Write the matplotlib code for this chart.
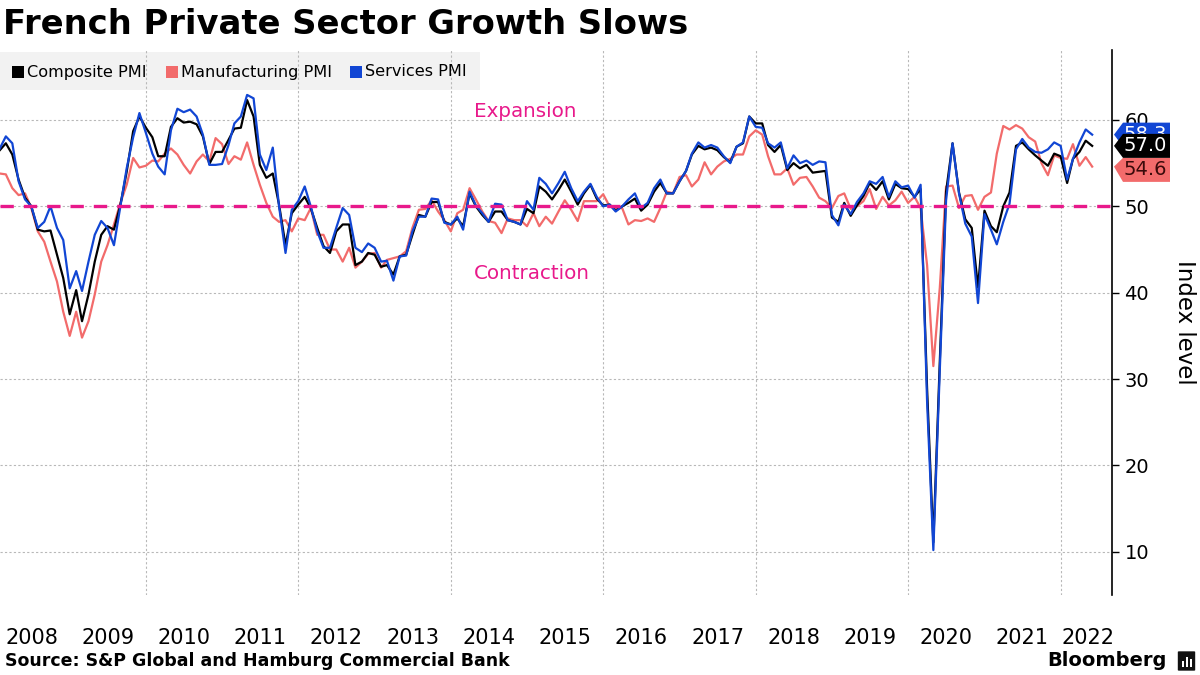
import numpy as np
import pandas as pd
import matplotlib
matplotlib.use('Agg')
import matplotlib.pyplot as plt
import matplotlib.dates as mdates
from matplotlib.patches import Rectangle, Polygon, FancyBboxPatch

# monthly PMI readings, Jan 2008 - May 2022
composite = [
    56.5, 57.3, 56.0, 53.1, 51.0, 50.0, 47.3, 47.1, 47.2, 44.4, 41.7, 37.5,
    40.3, 36.7, 39.8, 43.6, 46.7, 47.7, 47.3, 50.2, 54.0, 58.7, 60.4, 59.1,
    58.0, 55.8, 55.8, 59.2, 60.2, 59.7, 59.8, 59.5, 58.1, 54.9, 56.3, 56.3,
    57.7, 59.0, 59.1, 62.3, 60.4, 54.8, 53.3, 53.8, 50.2, 45.5, 49.2, 50.2,
    51.1, 49.8, 47.5, 45.4, 44.6, 47.1, 47.9, 47.9, 43.2, 43.6, 44.6, 44.4,
    43.0, 43.2, 42.1, 44.2, 44.4, 46.7, 49.0, 48.8, 50.5, 50.5, 48.2, 47.9,
    48.6, 47.7, 51.5, 50.0, 49.0, 48.2, 49.4, 49.4, 48.4, 48.2, 47.9, 49.7,
    49.2, 52.3, 51.7, 50.8, 51.9, 53.1, 51.7, 50.2, 51.5, 52.5, 50.9, 50.1,
    50.2, 49.5, 50.0, 50.4, 50.9, 49.5, 50.2, 51.7, 52.7, 51.5, 51.5, 52.9,
    54.1, 56.0, 57.0, 56.6, 56.8, 56.5, 55.7, 55.1, 56.9, 57.3, 60.4, 59.6,
    59.6, 57.1, 56.3, 57.1, 54.2, 55.0, 54.4, 54.8, 53.9, 54.0, 54.1, 48.7,
    48.2, 50.4, 48.9, 50.1, 51.2, 52.7, 51.9, 52.9, 50.8, 52.6, 52.1, 52.0,
    51.1, 52.0, 28.9, 11.1, 32.1, 51.7, 57.3, 51.6, 48.5, 47.5, 40.6, 49.5,
    47.7, 47.0, 50.0, 51.6, 57.0, 57.4, 56.6, 55.9, 55.3, 54.7, 56.1, 55.8,
    52.7, 55.5, 56.3, 57.6, 57.0,
]
manufacturing = [
    53.8, 53.7, 52.1, 51.3, 51.5, 49.8, 47.1, 45.9, 43.6, 41.3, 37.8, 35.0,
    37.8, 34.8, 36.7, 39.8, 43.6, 45.5, 47.9, 50.4, 52.5, 55.6, 54.5, 54.7,
    55.3, 55.2, 56.1, 56.7, 56.0, 54.8, 53.8, 55.2, 56.0, 55.2, 57.9, 57.2,
    54.9, 55.8, 55.4, 57.4, 54.8, 52.5, 50.4, 48.8, 48.2, 48.4, 47.1, 48.6,
    48.4, 49.8, 46.7, 46.7, 45.0, 45.0, 43.6, 45.2, 42.9, 43.6, 44.5, 44.6,
    42.9, 43.8, 44.0, 44.2, 44.8, 47.5, 49.6, 49.7, 50.7, 49.4, 48.4, 47.1,
    49.2, 49.6, 52.1, 50.8, 49.4, 48.3, 48.1, 46.9, 48.6, 48.4, 48.4, 47.7,
    49.2, 47.7, 48.8, 48.0, 49.4, 50.7, 49.6, 48.3, 50.6, 50.6, 50.6, 51.4,
    50.0, 49.8, 49.8, 47.9, 48.4, 48.3, 48.6, 48.2, 49.8, 51.7, 51.5, 53.4,
    53.6, 52.3, 53.1, 55.1, 53.7, 54.6, 55.2, 55.5, 56.0, 56.0, 58.1, 58.8,
    58.3, 55.8, 53.7, 53.7, 54.4, 52.5, 53.3, 53.4, 52.3, 51.0, 50.6, 49.8,
    51.2, 51.5, 49.7, 50.0, 50.6, 52.0, 49.7, 51.1, 50.1, 50.7, 51.7, 50.4,
    51.1, 49.8, 43.2, 31.5, 40.6, 52.3, 52.4, 49.8, 51.2, 51.3, 49.6, 51.1,
    51.6, 56.1, 59.3, 58.9, 59.4, 59.0, 58.0, 57.5, 55.0, 53.6, 55.9, 55.6,
    55.5, 57.2, 54.7, 55.7, 54.6,
]
services = [
    56.7, 58.1, 57.3, 52.9, 50.8, 50.0, 47.5, 48.2, 50.0, 47.5, 46.1, 40.5,
    42.5, 40.2, 43.6, 46.7, 48.3, 47.5, 45.5, 50.0, 54.4, 58.0, 60.8, 58.5,
    56.1, 54.6, 53.7, 58.8, 61.3, 60.9, 61.2, 60.4, 58.3, 54.8, 54.8, 54.9,
    57.1, 59.6, 60.4, 62.9, 62.5, 56.0, 54.2, 56.8, 50.0, 44.6, 49.6, 50.6,
    52.3, 50.0, 47.1, 45.2, 45.2, 47.5, 49.8, 49.0, 45.2, 44.7, 45.7, 45.2,
    43.6, 43.7, 41.4, 44.2, 44.3, 47.1, 48.8, 48.8, 50.9, 50.8, 48.1, 47.9,
    48.8, 47.3, 51.7, 50.1, 49.2, 48.2, 50.3, 50.2, 48.4, 48.2, 47.9, 50.6,
    49.6, 53.3, 52.6, 51.5, 52.7, 54.0, 52.1, 50.6, 51.7, 52.6, 51.1, 50.0,
    50.2, 49.4, 50.0, 50.8, 51.5, 49.8, 50.4, 52.1, 53.1, 51.5, 51.5, 52.9,
    54.1, 56.1, 57.4, 56.8, 57.1, 56.8, 55.8, 55.0, 56.9, 57.4, 60.4, 59.2,
    59.1, 57.3, 56.8, 57.4, 54.4, 55.9, 55.0, 55.3, 54.8, 55.2, 55.1, 49.0,
    47.8, 50.2, 49.1, 50.5, 51.5, 52.9, 52.6, 53.4, 51.1, 52.9, 52.2, 52.4,
    51.0, 52.5, 27.4, 10.2, 31.1, 50.7, 57.3, 51.5, 48.0, 46.5, 38.8, 49.1,
    47.3, 45.6, 48.2, 50.3, 56.6, 57.8, 56.8, 56.3, 56.2, 56.6, 57.4, 57.0,
    53.1, 55.5, 57.4, 58.9, 58.3,
]
years = list(range(2008, 2023))
year_labels = [str(y) for y in years]
y_ticks = [10, 20, 30, 40, 50, 60]

BLACK = '#000000'
RED = '#f26b6b'
BLUE = '#1146d4'
PINK = '#e8198b'
GRID = '#b8b8b8'

dates = pd.date_range('2008-01-01', periods=len(composite), freq='MS') + pd.offsets.MonthEnd(0)

fig = plt.figure(figsize=(12, 6.75), dpi=100)
# plot area in pixels: x 0..1112, y 50..595
ax = fig.add_axes([0, 1 - 595 / 675, 1112 / 1200, 545 / 675])
ax.set_axisbelow(True)

def axx(px):
    return px / 1112.0

def axy(py):
    return 1 - (py - 50) / 545.0

ax.plot(dates, manufacturing, color=RED, lw=1.6, zorder=3)
ax.plot(dates, composite, color=BLACK, lw=1.6, zorder=4)
ax.plot(dates, services, color=BLUE, lw=1.6, zorder=5)
ax.axhline(50, color=PINK, lw=2.4, dashes=(4, 3), zorder=6)

ax.set_xlim(pd.Timestamp('2008-02-01'), pd.Timestamp('2022-09-03'))
ax.set_ylim(5.0, 68.1)

# year labels at mid-year, gridlines at Jan of even years
label_pos = [pd.Timestamp(f'{y}-07-01') for y in years]
label_pos[-1] = pd.Timestamp('2022-05-10')
ax.set_xticks(label_pos)
ax.set_xticklabels(year_labels, fontsize=15)
ax.set_xticks([pd.Timestamp(f'{y}-01-01') for y in range(2010, 2023, 2)], minor=True)
ax.tick_params(axis='x', which='both', length=0, pad=24)
ax.grid(axis='x', which='minor', color=GRID, lw=0.8, linestyle=(0, (2, 2)))

ax.yaxis.tick_right()
ax.set_yticks(y_ticks)
ax.set_yticklabels([str(v) for v in y_ticks], fontsize=14)
ax.tick_params(axis='y', length=5, width=1, pad=4, color='black')
ax.grid(axis='y', color=GRID, lw=0.8, linestyle=(0, (2, 2)))

for s in ['left', 'top', 'bottom']:
    ax.spines[s].set_visible(False)
ax.spines['right'].set_linewidth(1.2)

ax.yaxis.set_label_position('right')
ax.set_ylabel('Index level', fontsize=16.5, rotation=270, labelpad=34)

tr = ax.get_yaxis_transform()
ax.text(axx(525), 60 - (112 - 120) / 8.64, 'Expansion', transform=tr, color=PINK,
        fontsize=14.3, ha='center', va='center')
ax.text(axx(532), 60 - (274 - 120) / 8.64, 'Contraction', transform=tr, color=PINK,
        fontsize=14.3, ha='center', va='center')

# legend box
ax.add_patch(Rectangle((0, axy(90)), axx(480), axy(52) - axy(90), transform=ax.transAxes,
                       facecolor='#f2f2f2', edgecolor='none', zorder=0, clip_on=False))
leg_items = [('Composite PMI', BLACK, 12), ('Manufacturing PMI', RED, 166), ('Services PMI', BLUE, 350)]
for name, col, px in leg_items:
    ax.add_patch(Rectangle((axx(px), axy(78)), axx(12), axy(66) - axy(78), transform=ax.transAxes,
                           facecolor=col, edgecolor='none', zorder=7, clip_on=False))
    ax.text(axx(px + 15), axy(72), name, transform=ax.transAxes, fontsize=11.6,
            va='center', ha='left', zorder=7)

# last-value tags on the right axis
h = 1.39
last_k = composite[-1]
last_s = services[-1]
last_m = manufacturing[-1]
tags = [
    (last_s, last_s, BLUE, 'white', 10),
    (last_m, min(last_m, last_k - 2 * h), RED, '#3a0a0a', 12),
    (last_k, last_k, BLACK, 'white', 14),
]
for val, ctr, col, tcol, z in tags:
    pts = [(1 + axx(2), val), (1 + axx(11), ctr + h), (1 + axx(58), ctr + h),
           (1 + axx(58), ctr - h), (1 + axx(11), ctr - h)]
    ax.add_patch(Polygon(pts, closed=True, transform=tr, facecolor=col, edgecolor='none',
                         zorder=z, clip_on=False))
    ax.text(1 + axx(33), ctr, f'{val:.1f}', transform=tr, color=tcol, fontsize=14,
            ha='center', va='center', zorder=z + 1, clip_on=False)

fig.text(3 / 1200, 1 - 24 / 675, 'French Private Sector Growth Slows', fontsize=24.3,
         fontweight='bold', ha='left', va='center')
fig.text(5 / 1200, 1 - 661 / 675, 'Source: S&P Global and Hamburg Commercial Bank',
         fontsize=12.5, fontweight='bold', ha='left', va='center')
fig.text(1167 / 1200, 1 - 660 / 675, 'Bloomberg', fontsize=14, fontweight='bold',
         ha='right', va='center')
fig.patches.append(FancyBboxPatch((1179 / 1200, 1 - 670 / 675), 15 / 1200, 18 / 675,
                                  boxstyle='round,pad=0.001', transform=fig.transFigure,
                                  facecolor='#111111', edgecolor='none'))
for i, bh in enumerate([6, 10, 8]):
    fig.patches.append(Rectangle(((1182 + i * 4) / 1200, 1 - 667 / 675), 2 / 1200, bh / 675,
                                 transform=fig.transFigure, facecolor='white', edgecolor='none'))

fig.savefig('out.png', dpi=100)
